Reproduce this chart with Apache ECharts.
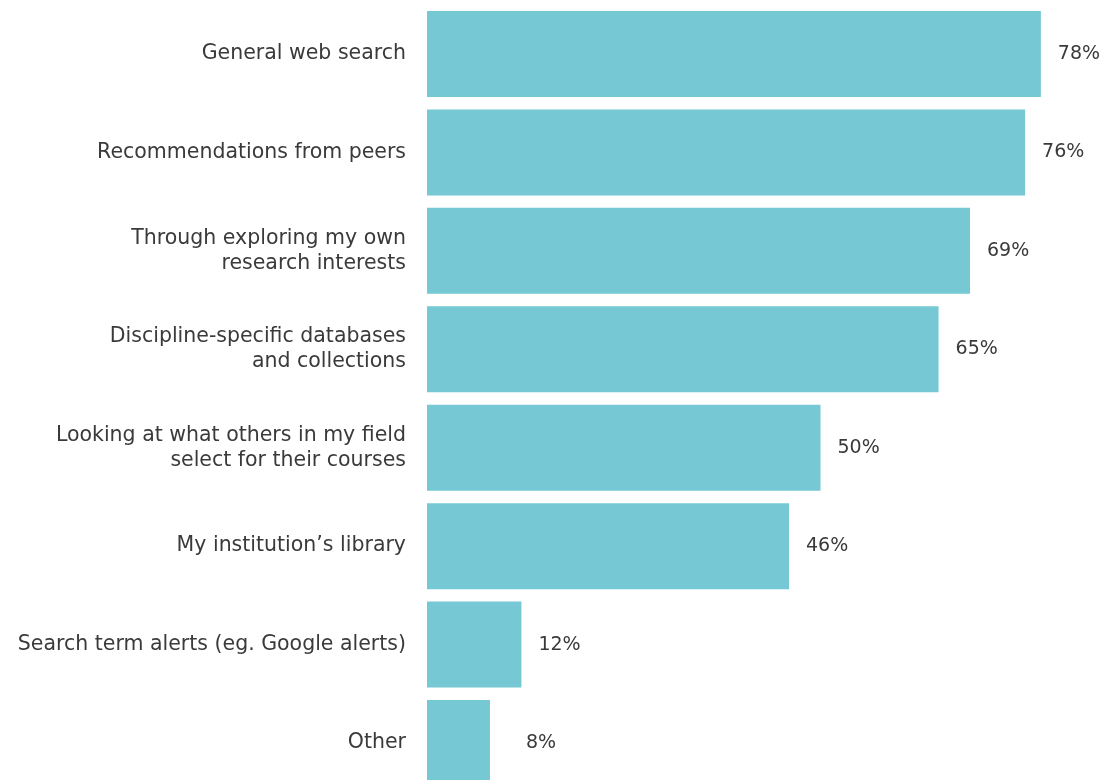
<!DOCTYPE html>
<html>
<head>
<meta charset="utf-8">
<script src="https://cdn.jsdelivr.net/npm/echarts@6/dist/echarts.min.js"></script>
<style>
  html, body { margin: 0; padding: 0; background: #ffffff; }
  #chart { width: 1102px; height: 780px; }
</style>
</head>
<body>
<div id="chart"></div>
<script>
// Sources used to discover materials, share of respondents (%)
const categories = [
  'General web search',
  'Recommendations from peers',
  'Through exploring my own\nresearch interests',
  'Discipline-specific databases\nand collections',
  'Looking at what others in my field\nselect for their courses',
  'My institution\u2019s library',
  'Search term alerts (eg. Google alerts)',
  'Other'
];
const shares = [78, 76, 69, 65, 50, 46, 12, 8];

const FONT = '"DejaVu Sans", sans-serif';
const TEXT = '#3a3a3a';
const BAR = '#76c8d4';

const chart = echarts.init(document.getElementById('chart'), null, { renderer: 'canvas' });

chart.setOption({
  animation: false,
  grid: {
    left: 427, top: 4.8, width: 629.6, height: 787.4,
    containLabel: false,
    outerBoundsMode: 'none'
  },
  xAxis: {
    type: 'value', min: 0, max: 80,
    show: false
  },
  yAxis: {
    type: 'category',
    inverse: true,
    data: categories,
    axisLine: { show: false },
    axisTick: { show: false },
    splitLine: { show: false },
    axisLabel: {
      margin: 21,
      color: TEXT,
      fontFamily: FONT,
      fontSize: 20.5,
      lineHeight: 25,
      align: 'right'
    }
  },
  series: [{
    type: 'bar',
    data: shares.map((v, i) => ({
      value: v,
      label: { distance: i === shares.length - 1 ? 36 : 17 }
    })),
    barWidth: 86,
    itemStyle: { color: BAR },
    label: {
      show: true,
      position: 'right',
      color: TEXT,
      fontFamily: FONT,
      fontSize: 19,
      formatter: p => p.value + '%'
    }
  }]
});
</script>
</body>
</html>
